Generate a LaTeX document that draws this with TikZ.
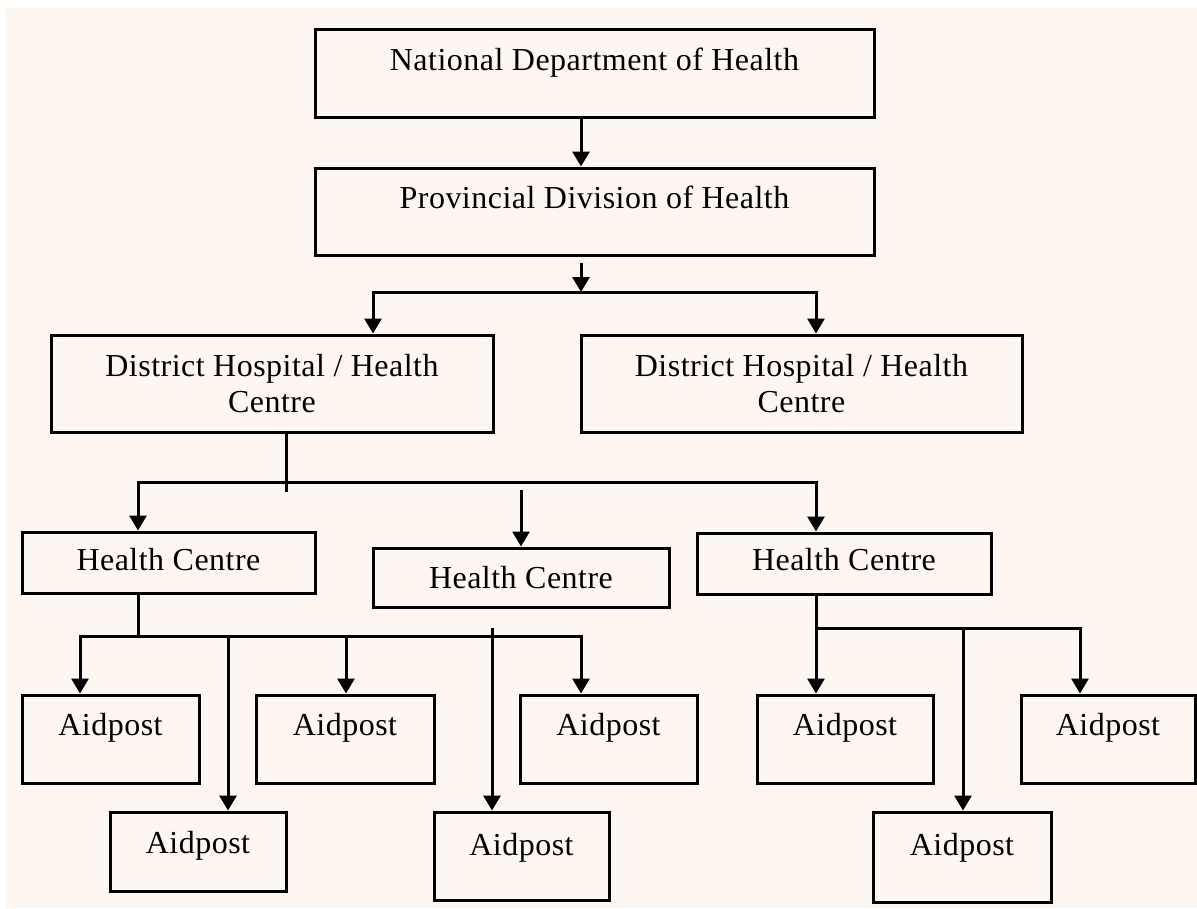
\documentclass[tikz,border=0pt]{standalone}
\usepackage{fontspec}
\setmainfont{Liberation Serif}[LetterSpace=1.5]
\usetikzlibrary{arrows.meta,calc}
\definecolor{cream}{HTML}{FEF6F0}
\begin{document}
\begin{tikzpicture}[x=1pt,y=-1pt,
  box/.style={draw=black, line width=3pt, rectangle, inner sep=0pt, fill=cream},
  lbl/.style={font=\fontsize{32}{36}\selectfont, inner sep=0pt, anchor=base, text=black},
  conn/.style={line width=3pt, draw=black, line join=miter},
  arr/.style={conn, -{Triangle[width=17pt,length=15pt]}}]
\useasboundingbox (0,0) rectangle (1197,908);
\fill[white] (0,0) rectangle (1197,908);
\fill[cream] (6,8) rectangle (1197,908);

% boxes
\node[box, minimum width=559pt, minimum height=88pt] (nat) at (594.5,73) {};
\node[box, minimum width=559pt, minimum height=87pt] (prov) at (594.5,211.5) {};
\node[box, minimum width=442pt, minimum height=97pt] (dh1) at (272,383.5) {};
\node[box, minimum width=441pt, minimum height=97pt] (dh2) at (801.5,383.5) {};
\node[box, minimum width=293pt, minimum height=61pt] (hc1) at (168.5,562.5) {};
\node[box, minimum width=296pt, minimum height=59pt] (hc2) at (521,577.5) {};
\node[box, minimum width=294pt, minimum height=61pt] (hc3) at (844,563.5) {};
\node[box, minimum width=177pt, minimum height=88pt] (a1) at (110.5,739) {};
\node[box, minimum width=178pt, minimum height=88pt] (a2) at (345,739) {};
\node[box, minimum width=177pt, minimum height=88pt] (a3) at (608.5,739) {};
\node[box, minimum width=176pt, minimum height=79pt] (a4) at (198,851.5) {};
\node[box, minimum width=175pt, minimum height=88pt] (a5) at (521.5,856) {};
\node[box, minimum width=176pt, minimum height=88pt] (a6) at (845,739) {};
\node[box, minimum width=174pt, minimum height=88pt] (a7) at (1108,739) {};
\node[box, minimum width=178pt, minimum height=90pt] (a8) at (962,857) {};

% labels
\node[lbl] (natT) at (594.5,70) {National Department of Health};
\node[lbl] (provT) at (594.5,208) {Provincial Division of Health};
\node[lbl] (dh1T) at (272,376) {District Hospital / Health};
\node[lbl] (dh1U) at (272,412) {Centre};
\node[lbl] (dh2T) at (801.5,376) {District Hospital / Health};
\node[lbl] (dh2U) at (801.5,412) {Centre};
\node[lbl] (hc1T) at (168.5,570) {Health Centre};
\node[lbl] (hc2T) at (521,588) {Health Centre};
\node[lbl] (hc3T) at (844,570) {Health Centre};
\node[lbl] (a1T) at (110.5,735) {Aidpost};
\node[lbl] (a2T) at (345,735) {Aidpost};
\node[lbl] (a3T) at (608.5,735) {Aidpost};
\node[lbl] (a4T) at (198,853) {Aidpost};
\node[lbl] (a5T) at (521.5,855) {Aidpost};
\node[lbl] (a6T) at (845,735) {Aidpost};
\node[lbl] (a7T) at (1108,735) {Aidpost};
\node[lbl] (a8T) at (962,855) {Aidpost};

% level 1
\draw[arr] ([xshift=-13.5pt]nat.south) -- ([xshift=-13.5pt]prov.north);
\coordinate (c1) at (581,263);
\coordinate (busM) at (581,292);
\coordinate (busL) at (373,292);
\coordinate (busR) at (816,292);
\draw[arr] (c1) -- (busM);
\draw[arr] (busM) -- (busL) -- (busL |- dh1.north);
\draw[arr] (busM) -- (busR) -- (busR |- dh2.north);

% level 2
\coordinate (d1) at (286,492);
\coordinate (b2M) at (286,482);
\coordinate (b2L) at (138,482);
\coordinate (b2R) at (816,482);
\coordinate (h2top) at (521,490);
\draw[conn] ([xshift=14pt]dh1.south) -- (d1);
\draw[arr] (b2M) -- (b2L) -- (b2L |- hc1.north);
\draw[arr] (b2M) -- (b2R) -- (b2R |- hc3.north);
\draw[arr] (h2top) -- (h2top |- hc2.north);

% level 3
\coordinate (b3M) at (138,636);
\coordinate (b3L) at (80,636);
\coordinate (b3R) at (581,636);
\coordinate (b3a) at (228,636);
\coordinate (b3b) at (346,636);
\coordinate (b3c) at (492,628);
\draw[conn] ([xshift=-30.5pt]hc1.south) -- (b3M);
\draw[arr] (b3M) -- (b3L) -- (b3L |- a1.north);
\draw[arr] (b3M) -- (b3R) -- (b3R |- a3.north);
\draw[arr] (b3a) -- (b3a |- a4.north);
\draw[arr] (b3b) -- (b3b |- a2.north);
\draw[arr] (b3c) -- (b3c |- a5.north);

% level 4
\coordinate (b4L) at (816,628);
\coordinate (b4M) at (963,628);
\coordinate (b4R) at (1080,628);
\draw[arr] ([xshift=-28pt]hc3.south) -- (b4L |- a6.north);
\draw[arr] (b4L) -- (b4R) -- (b4R |- a7.north);
\draw[arr] (b4M) -- (b4M |- a8.north);
\end{tikzpicture}
\end{document}
